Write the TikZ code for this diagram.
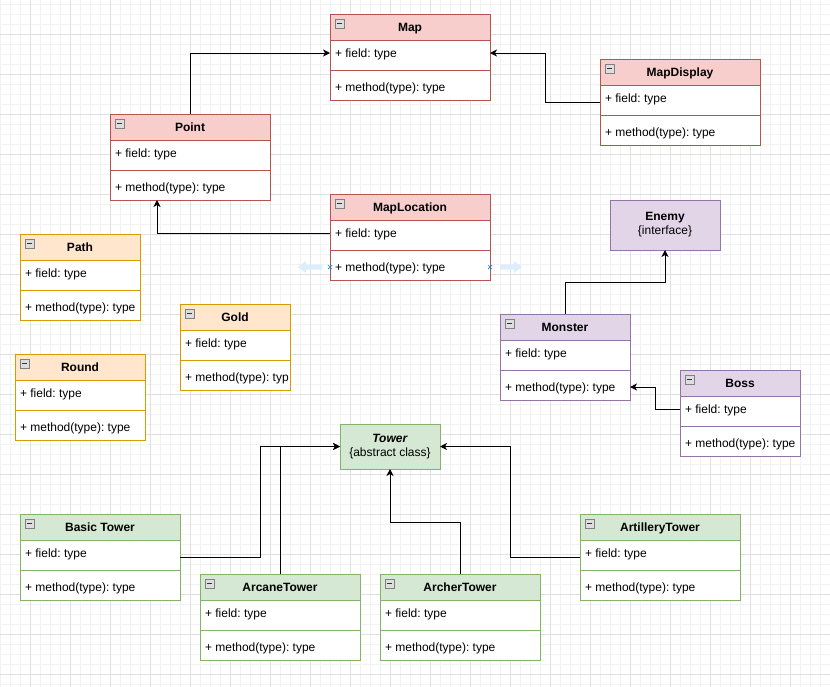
\documentclass[tikz,border=0pt]{standalone}
\usepackage{fontspec}
\setmainfont{Liberation Sans}
\frenchspacing
\usetikzlibrary{calc}
\usetikzlibrary{arrows.meta}

\definecolor{redfill}{HTML}{F8CECC}
\definecolor{redline}{HTML}{B85450}
\definecolor{orangefill}{HTML}{FFE6CC}
\definecolor{orangeline}{HTML}{D79B00}
\definecolor{purplefill}{HTML}{E1D5E7}
\definecolor{purpleline}{HTML}{9673A6}
\definecolor{greenfill}{HTML}{D5E8D4}
\definecolor{greenline}{HTML}{82B366}
\definecolor{hintblue}{HTML}{DCEEFB}

\tikzset{
  txt/.style={font=\fontsize{12pt}{14pt}\selectfont, text height=10pt, text depth=1.5pt},
  hdr/.style={rectangle, draw, line width=1pt, outer sep=0pt, inner sep=0pt,
    minimum height=26pt, anchor=north west, txt, font=\fontsize{12pt}{14pt}\selectfont\bfseries},
  body/.style={rectangle, draw, fill=white, line width=1pt, outer sep=0pt,
    inner sep=0pt, minimum height=60pt, anchor=north west},
  row/.style={anchor=west, inner xsep=5pt, inner ysep=0pt, outer sep=0pt, txt},
  iface/.style={rectangle, draw, line width=1pt, outer sep=0pt, inner sep=0pt,
    align=center, font=\fontsize{12pt}{14pt}\selectfont},
  conn/.style={black, line width=1pt, -{Stealth[length=7pt,width=7pt,inset=2pt]}}
}

\begin{document}
\begin{tikzpicture}[x=1pt, y=-1pt, font=\fontsize{12pt}{14pt}\selectfont]
\useasboundingbox (0,0) rectangle (830,686);
\fill[white] (0,0) rectangle (830,686);
% grid
\begin{scope}
\clip (0,0) rectangle (830,686);
\draw[black!5, line width=0.6pt, shift={(0,4)}, step=10pt] (-10,-10) grid (840,690);
\draw[black!12, line width=0.8pt, shift={(30,34)}, step=40pt] (-40,-40) grid (840,690);
\end{scope}

% classes
\foreach \nm/\px/\py/\bw/\col/\ttl in {
  map/330/14/160/red/Map,
  point/110/114/160/red/Point,
  mapdisplay/600/59/160/red/MapDisplay,
  maplocation/330/194/160/red/MapLocation,
  path/20/234/120/orange/Path,
  gold/180/304/110/orange/Gold,
  round/15/354/130/orange/Round,
  monster/500/314/130/purple/Monster,
  boss/680/370/120/purple/Boss,
  basic/20/514/160/green/Basic Tower,
  arcane/200/574/160/green/ArcaneTower,
  archer/380/574/160/green/ArcherTower,
  artillery/580/514/160/green/ArtilleryTower} {
 \node[hdr, fill=\col fill, draw=\col line, minimum width=\bw pt] (\nm) at (\px,\py) {\ttl};
 \node[body, draw=\col line, minimum width=\bw pt] (\nm-b) at (\nm.south west) {};
 \draw[\col line, line width=1pt] ([yshift=-30pt]\nm-b.north west) -- ([yshift=-30pt]\nm-b.north east);
 \draw[black!50, fill=black!13, line width=0.8pt] ([shift={(5pt,-5pt)}]\nm.north west) rectangle ++(9,9);
 \draw[black!80, line width=1pt] ([shift={(7pt,-9.5pt)}]\nm.north west) -- ++(5,0);
 \node[row] (\nm-f) at ([yshift=-13pt]\nm-b.north west) {+ field: type};
 \begin{scope}
  \clip ([xshift=0.5pt]\nm-b.north west) rectangle ([xshift=-2pt]\nm-b.south east);
  \node[row] (\nm-m) at ([yshift=-47pt]\nm-b.north west) {+ method(type): type};
 \end{scope}
}

\node[iface, fill=purplefill, draw=purpleline, minimum width=110pt, minimum height=50pt, anchor=north west]
  (enemy) at (610,200) {\textbf{Enemy}\\{\{interface\}}};
\node[iface, fill=greenfill, draw=greenline, minimum width=100pt, minimum height=45pt, anchor=north west]
  (tower) at (340,424) {\textbf{\itshape Tower}\\{\{abstract class\}}};

% hover hints
\fill[hintblue] (298,267) -- (306,261) -- (306,264.5) -- (322,264.5) -- (322,269.5) -- (306,269.5) -- (306,273) -- cycle;
\fill[hintblue] (522,267) -- (514,261) -- (514,264.5) -- (500,264.5) -- (500,269.5) -- (514,269.5) -- (514,273) -- cycle;
\foreach \hx in {330,490} {
 \draw[cyan!70!blue, line width=0.7pt] (\hx-2,265) -- (\hx+2,269) (\hx-2,269) -- (\hx+2,265);
}

% connectors
\draw[conn] (point.north) |- (map-f.west);
\draw[conn] ([yshift=-4pt]mapdisplay-f.west) -- ++(-55,0) |- (map-b.east |- map-f);
\draw[conn] (maplocation-f.west) -| ([xshift=-33pt]point-b.south);
\draw[conn] (monster.north) -- ++(0,-32) -| (enemy.south);
\draw[conn] (boss-f.west) -- ++(-25,0) |- (monster-b.east |- monster-m);
\draw[conn] ([yshift=-4pt]basic-b.east |- basic-f) -- ++(80,0) |- (tower.west);
\draw[conn] (arcane.north) |- (tower.west);
\draw[conn] (archer.north) -- ++(0,-52) -| (tower.south);
\draw[conn] ([yshift=-4pt]artillery-f.west) -- ++(-70,0) |- (tower.east);
\end{tikzpicture}
\end{document}
